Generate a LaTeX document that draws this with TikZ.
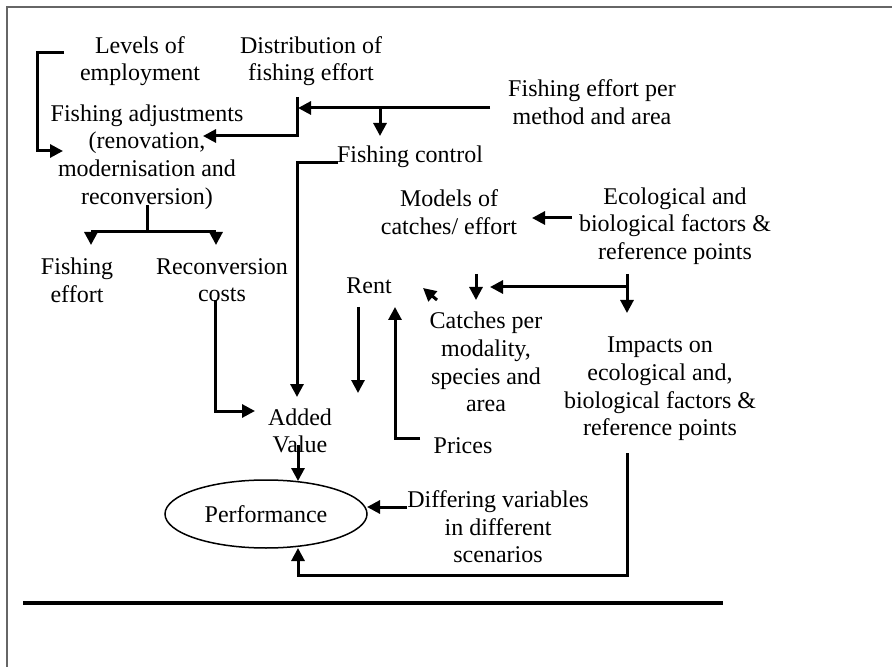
\documentclass[tikz,border=0pt]{standalone}
\usepackage{fontspec}
\setmainfont{Liberation Serif}
\usetikzlibrary{arrows.meta,shapes.geometric}
\begin{document}
\begin{tikzpicture}[x=0.5pt,y=-0.5pt,
  font=\fontsize{12}{13.8}\selectfont,
  txt/.style={align=center,inner sep=0pt},
  conn/.style={line width=1.5pt},
  arr/.style={conn,-{Triangle[length=6.5pt,width=6.5pt]}}]
\useasboundingbox (0,0) rectangle (892,667);
\draw[black!60, line width=0.7pt] (7,667) -- (7,7) -- (892,7);

% nodes
\node[txt] (lev) at (140,61) {Levels of\\employment};
\node[txt] (dist) at (311,61) {Distribution of\\fishing effort};
\node[txt] (adj) at (147,157) {Fishing adjustments\\(renovation,\\modernisation and\\reconversion)};
\node[txt] (fepm) at (592,102) {Fishing effort per\\method and area};
\node[txt] (ctrl) at (410,157) {Fishing control};
\node[txt] (models) at (449,212) {Models of\\catches/ effort};
\node[txt] (eco) at (675,226) {Ecological and\\biological factors \&\\reference points};
\node[txt] (feff) at (77,280) {Fishing\\effort};
\node[txt] (rcc) at (222,280) {Reconversion\\costs};
\node[txt] (rent) at (369,286) {Rent};
\node[txt] (catch) at (486,362) {Catches per\\modality,\\species and\\area};
\node[txt] (imp) at (660,389) {Impacts on\\ecological and,\\biological factors \&\\reference points};
\node[txt] (av) at (300,431) {Added\\Value};
\node[txt] (prices) at (463,446) {Prices};
\node[draw, ellipse, line width=0.75pt, inner sep=0pt, minimum width=101pt, minimum height=34pt] (perf) at (266,514) {Performance};
\node[txt] (diff) at (498,527) {Differing variables\\in different\\scenarios};

% connector end points
\coordinate (levA) at (64,53);
\coordinate (levB) at (37,53);
\coordinate (levC) at (37,151);
\coordinate (adjIn) at (63,151);
\coordinate (fepmOut) at (490,108);
\coordinate (distIn) at (298,108);
\coordinate (distTop) at (297,97);
\coordinate (distBend) at (297,136);
\coordinate (adjIn2) at (203,136);
\coordinate (ctrlSrc) at (380,108);
\coordinate (ctrlIn) at (380,136);
\coordinate (ctrlOut) at (338,163);
\coordinate (ctrlBend) at (297,163);
\coordinate (avIn1) at (297,397);
\coordinate (ecoOut) at (572,218);
\coordinate (modIn) at (532,218);
\coordinate (ecoTop) at (627,274);
\coordinate (impIn) at (627,313);
\coordinate (ecoMid) at (627,287);
\coordinate (catchIn) at (490,287);
\coordinate (modOut) at (476,274);
\coordinate (catchIn2) at (476,300);
\coordinate (catchOut) at (437,300);
\coordinate (rentIn) at (423,288);
\coordinate (rentOut) at (358,307);
\coordinate (avIn2) at (358,393);
\coordinate (priceOut) at (420,438);
\coordinate (priceBend) at (395,438);
\coordinate (rentIn2) at (395,307);
\coordinate (rccOut) at (215,300);
\coordinate (rccBend) at (215,411);
\coordinate (avIn3) at (255,411);
\coordinate (avOut) at (298,445);
\coordinate (perfTop) at (298,481);
\coordinate (diffOut) at (407,507);
\coordinate (perfRight) at (367,507);
\coordinate (impOut) at (627,453);
\coordinate (impB1) at (627,575);
\coordinate (impB2) at (298,575);
\coordinate (perfBot) at (298,548);
\coordinate (adjOut) at (147,205);
\coordinate (treeMid) at (147,232);
\coordinate (treeL) at (91,232);
\coordinate (treeR) at (216,232);
\coordinate (feffIn) at (91,245);
\coordinate (rccIn) at (216,245);
\coordinate (ruleL) at (23,603);
\coordinate (ruleR) at (723,603);

% connectors
\draw[arr] (levA) -- (levB) -- (levC) -- (adjIn);
\draw[arr] (fepmOut) -- (distIn);
\draw[arr] (distTop) -- (distBend) -- (adjIn2);
\draw[arr] (ctrlSrc) -- (ctrlIn);
\draw[arr] (ctrlOut) -- (ctrlBend) -- (avIn1);
\draw[arr] (ecoOut) -- (modIn);
\draw[arr] (ecoTop) -- (impIn);
\draw[arr] (ecoMid) -- (catchIn);
\draw[arr] (modOut) -- (catchIn2);
\draw[arr] (catchOut) -- (rentIn);
\draw[arr] (rentOut) -- (avIn2);
\draw[arr] (priceOut) -- (priceBend) -- (rentIn2);
\draw[arr] (rccOut) -- (rccBend) -- (avIn3);
\draw[arr] (avOut) -- (perfTop);
\draw[arr] (diffOut) -- (perfRight);
\draw[arr] (impOut) -- (impB1) -- (impB2) -- (perfBot);
\draw[conn] (adjOut) -- (treeMid);
\draw[conn] (treeL) -- (treeR);
\draw[arr] (treeL) -- (feffIn);
\draw[arr] (treeR) -- (rccIn);
\draw[line width=2pt] (ruleL) -- (ruleR);
\end{tikzpicture}
\end{document}
